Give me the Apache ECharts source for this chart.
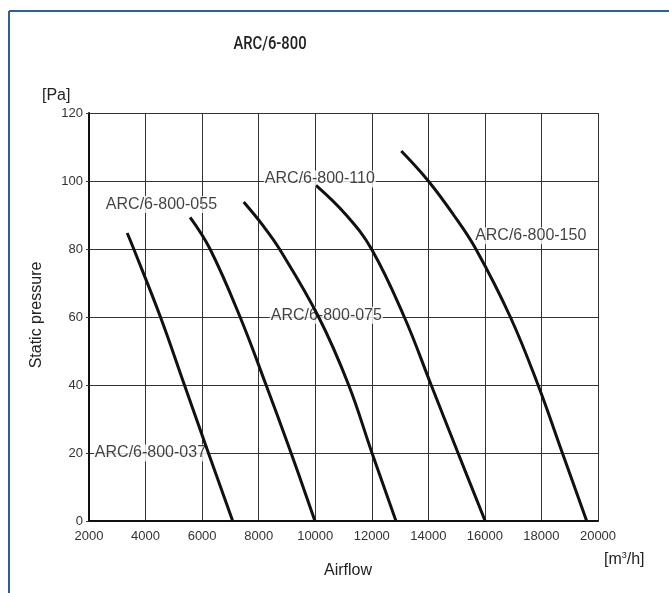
<!DOCTYPE html>
<html>
<head>
<meta charset="utf-8">
<script src="https://cdn.jsdelivr.net/npm/echarts@6/dist/echarts.min.js"></script>
<style>html,body{margin:0;padding:0;background:#fff}#c{width:669px;height:593px}</style>
</head>
<body>
<div id="c"></div>
<script>
const titleText = 'ARC/6-800';
const yTickMin = 0, yTickMax = 120, yTickStep = 20;
const xTickMin = 2000, xTickMax = 20000, xTickStep = 2000;

const curve037 = [[3350,84.7],[3583,80],[4527,60],[5375,40],[6223,20],[7082,0]];
const curve055 = [[5576,89.3],[6280,80],[7343,60],[8262,40],[9146,20],[9990,0]];
const curve075 = [[7471,93.8],[8141,87],[8736,80],[10121,60],[11182,40],[12008,20],[12856,0]];
const curve110 = [[10029,98.7],[11095,90],[11990,80],[13150,60],[14100,40],[15050,20],[16010,0]];
const curve150 = [[13044,108.8],[14000,100],[14895,90],[15680,80],[16900,60],[17880,40],[18740,20],[19600,0]];

const labelNames = ['ARC/6-800-037','ARC/6-800-055','ARC/6-800-075','ARC/6-800-110','ARC/6-800-150'];
const labelFlow = [4173, 4562, 10393, 10164, 17621];
const labelPressure = [20, 93.1, 60.5, 100.6, 83.9];

const curves = [curve037, curve055, curve075, curve110, curve150];

const chart = echarts.init(document.getElementById('c'), null, {renderer: 'canvas'});
const FONT = '"Liberation Sans", Arial, sans-serif';

const lineSeries = curves.map((d, i) => ({
  type: 'line', name: labelNames[i], data: d, smooth: 0.4, showSymbol: false,
  lineStyle: {color: '#111', width: 3}, z: 5, silent: true
}));

chart.setOption({
  animation: false,
  backgroundColor: '#fff',
  grid: {left: 89, right: 71, top: 113, bottom: 72, containLabel: false},
  xAxis: {
    type: 'value', min: xTickMin, max: xTickMax, interval: xTickStep,
    axisLine: {show: true, onZero: false, lineStyle: {color: '#111', width: 2}},
    axisTick: {show: false},
    axisLabel: {fontFamily: FONT, fontSize: 13, color: '#333', margin: 9, formatter: v => String(v)},
    splitLine: {show: true, lineStyle: {color: '#333', width: 1}}
  },
  yAxis: {
    type: 'value', min: yTickMin, max: yTickMax, interval: yTickStep,
    axisLine: {show: true, lineStyle: {color: '#111', width: 2}},
    axisTick: {show: true, length: 3, lineStyle: {color: '#333'}},
    axisLabel: {fontFamily: FONT, fontSize: 13, color: '#333', margin: 6, formatter: v => String(v)},
    splitLine: {show: true, lineStyle: {color: '#333', width: 1}}
  },
  graphic: [
    {type: 'line', shape: {x1: 9, y1: 11, x2: 669, y2: 11}, style: {stroke: '#2f5f9e', lineWidth: 2}},
    {type: 'line', shape: {x1: 9, y1: 11, x2: 9, y2: 593}, style: {stroke: '#2f5f9e', lineWidth: 2}},
    {type: 'text', x: 270, y: 44, scaleX: 0.82, style: {text: titleText, font: '500 18px Roboto', fill: '#222', textAlign: 'center', textVerticalAlign: 'middle'}},
    {type: 'text', left: 42, top: 88, style: {text: '[Pa]', font: '16px ' + FONT, fill: '#222'}},
    {type: 'text', x: 37, y: 315, rotation: Math.PI / 2, style: {text: 'Static pressure', font: '16px ' + FONT, fill: '#222', textAlign: 'center', textVerticalAlign: 'middle'}},
    {type: 'text', x: 348, y: 571, style: {text: 'Airflow', font: '16px ' + FONT, fill: '#222', textAlign: 'center', textVerticalAlign: 'middle'}},
    {type: 'text', x: 604, y: 560, style: {
      rich: {n: {fontFamily: FONT, fontSize: 16, fill: '#222'}, s: {fontFamily: FONT, fontSize: 9, fill: '#222', verticalAlign: 'top', padding: [0,0,8,0]}},
      text: '{n|[m}{s|3}{n|/h]}', textVerticalAlign: 'middle'}}
  ],
  series: [
    ...lineSeries,
    {
      type: 'scatter', symbolSize: 0, z: 2, silent: true,
      data: labelNames.map((n, i) => ({name: n, value: [labelFlow[i], labelPressure[i]]})),
      label: {
        show: true, position: 'inside', formatter: p => p.name,
        fontFamily: FONT, fontSize: 16, color: '#111',
        backgroundColor: '#fff', padding: [1, 1, 0, 1]
      }
    }
  ]
});
</script>
</body>
</html>
